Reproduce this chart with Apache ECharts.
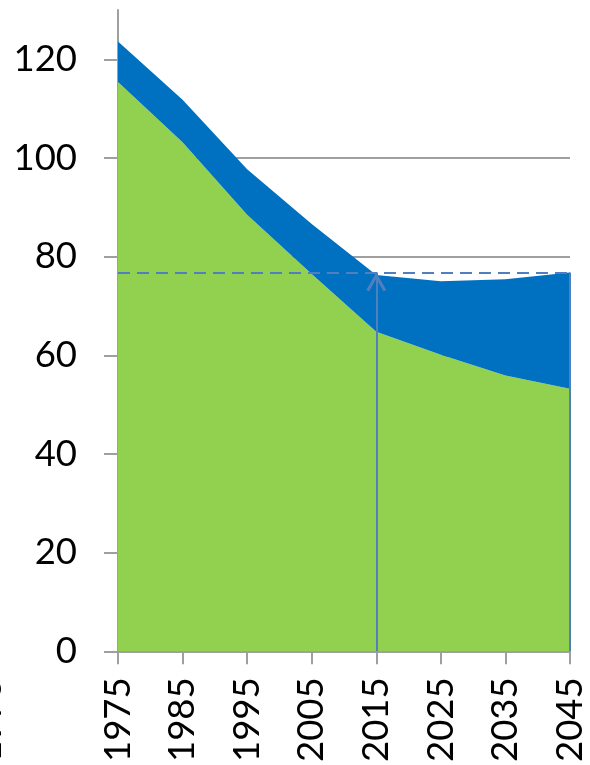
<!DOCTYPE html>
<html>
<head>
<meta charset="utf-8">
<script src="https://cdn.jsdelivr.net/npm/echarts@6/dist/echarts.min.js"></script>
<style>
html,body{margin:0;padding:0;background:#fff;}
#chart{width:590px;height:765px;}
</style>
</head>
<body>
<div id="chart"></div>
<script>
var years = ['1975','1985','1995','2005','2015','2025','2035','2045'];
var greenValues = [115.4, 103.2, 88.5, 76.5, 64.8, 60.1, 55.9, 53.2];
var blueValues = [8.2, 8.6, 9.2, 10.1, 11.5, 14.9, 19.5, 23.6];
var yTicks = [0, 20, 40, 60, 80, 100, 120];
var refLevel = 76.8;
var arrowYear = '2015';
var endYear = '2045';
var strayLabel = '1975';

var font = 'Lato, "Open Sans", sans-serif';
var annColor = '#4f7fbf';
var axisColor = '#9f9f9f';
var arrowPath = 'path://M0,10 L5,0 L10,10 L8.6,10.9 L5,3.6 L1.4,10.9 Z';

var chart = echarts.init(document.getElementById('chart'), null, {renderer: 'canvas'});
chart.setOption({
  animation: false,
  backgroundColor: '#ffffff',
  grid: {left: 118, right: 20, top: 10, bottom: 112, containLabel: false},
  xAxis: {
    type: 'category',
    data: years,
    boundaryGap: false,
    axisLine: {show: true, lineStyle: {color: axisColor, width: 2}},
    axisTick: {show: true, length: 13, alignWithLabel: true, lineStyle: {color: axisColor, width: 2}},
    axisLabel: {rotate: 90, margin: 26, color: '#000', fontSize: 36.5, fontFamily: font, interval: 0},
    splitLine: {show: false}
  },
  yAxis: {
    type: 'value',
    min: 0,
    max: 130,
    interval: 20,
    axisLine: {show: true, lineStyle: {color: axisColor, width: 2}},
    axisTick: {show: true, length: 14, customValues: yTicks, lineStyle: {color: axisColor, width: 2}},
    axisLabel: {margin: 41, color: '#000', fontSize: 36.5, fontFamily: font, customValues: yTicks},
    splitLine: {show: true, showMaxLine: false, lineStyle: {color: axisColor, width: 2}}
  },
  series: [
    {
      type: 'line',
      stack: 'total',
      data: greenValues,
      showSymbol: false,
      symbol: 'none',
      lineStyle: {width: 0},
      areaStyle: {color: '#92d050', opacity: 1},
      itemStyle: {color: '#92d050'},
      emphasis: {disabled: true},
      silent: true
    },
    {
      type: 'line',
      stack: 'total',
      data: blueValues,
      showSymbol: false,
      symbol: 'none',
      lineStyle: {width: 0},
      areaStyle: {color: '#0070c0', opacity: 1},
      itemStyle: {color: '#0070c0'},
      emphasis: {disabled: true},
      silent: true,
      markLine: {
        silent: true,
        animation: false,
        symbol: ['none', 'none'],
        label: {show: false},
        emphasis: {disabled: true},
        lineStyle: {color: annColor, width: 2, type: 'solid'},
        data: [
          [
            {coord: [years[0], refLevel], symbol: 'none', lineStyle: {type: [12, 7], width: 2, color: annColor}},
            {coord: [endYear, refLevel], symbol: 'none'}
          ],
          [
            {coord: [arrowYear, 0], symbol: 'none'},
            {coord: [arrowYear, refLevel], symbol: arrowPath, symbolSize: [20, 19], symbolOffset: [0, '50%']}
          ],
          [
            {coord: [endYear, 0], symbol: 'none'},
            {coord: [endYear, refLevel], symbol: 'none'}
          ]
        ]
      }
    }
  ],
  graphic: [
    {
      type: 'text',
      x: 8,
      y: 677,
      rotation: Math.PI / 2,
      style: {
        text: strayLabel,
        font: '36.5px ' + font,
        fill: '#000',
        textAlign: 'right',
        textVerticalAlign: 'bottom'
      },
      silent: true
    }
  ]
});
</script>
</body>
</html>
